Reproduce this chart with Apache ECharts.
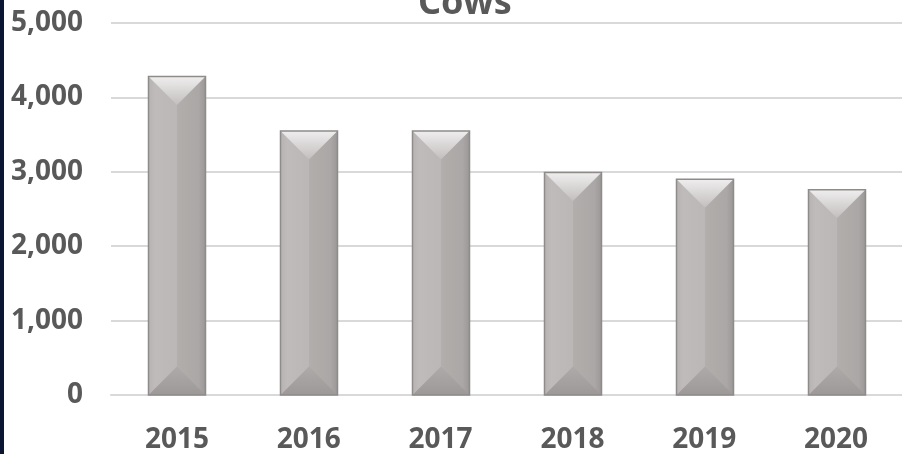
<!DOCTYPE html>
<html>
<head>
<meta charset="utf-8">
<script src="https://cdn.jsdelivr.net/npm/echarts@6/dist/echarts.min.js"></script>
<style>html,body{margin:0;padding:0;background:#fff;}#c{width:902px;height:454px;}</style>
</head>
<body>
<div id="c"></div>
<script>
const titleText = 'Cows';
const categories = ['2015', '2016', '2017', '2018', '2019', '2020'];
const cows = [4280, 3550, 3550, 2990, 2900, 2760];
const yTicks = [0, 1000, 2000, 3000, 4000, 5000];

const chart = echarts.init(document.getElementById('c'), null, {renderer: 'canvas'});
const font = '"Noto Sans", "Open Sans", sans-serif';
const textColor = '#595959';

function renderBar(params, api) {
  const cat = api.value(0);
  const val = api.value(1);
  const top = api.coord([cat, val]);
  const base = api.coord([cat, 0]);
  const bw = 57;
  const x0 = Math.round(top[0] - bw / 2) + 0.5;
  const x1 = x0 + bw;
  const cx = (x0 + x1) / 2;
  const y0 = top[1];
  const y1 = base[1];
  const b = Math.min(bw / 2, (y1 - y0) / 2);
  return {
    type: 'group',
    children: [
      {type: 'rect', shape: {x: x0, y: y0, width: bw, height: y1 - y0},
       style: {fill: new echarts.graphic.LinearGradient(0, 0, 1, 0, [
         {offset: 0, color: '#b7b3b2'}, {offset: 0.12, color: '#bfbbba'},
         {offset: 0.5, color: '#bbb7b6'}, {offset: 0.5, color: '#b1aeac'},
         {offset: 0.88, color: '#aaa7a6'}, {offset: 1, color: '#9a9796'}])}},
      {type: 'polygon', shape: {points: [[x0, y0], [x1, y0], [cx, y0 + b]]},
       style: {fill: new echarts.graphic.LinearGradient(0, 0, 0, 1, [
         {offset: 0, color: '#efeeee'}, {offset: 1, color: '#c2bebd'}])}},
      {type: 'polygon', shape: {points: [[x0, y1], [x1, y1], [cx, y1 - b]]},
       style: {fill: new echarts.graphic.LinearGradient(0, 0, 0, 1, [
         {offset: 0, color: '#aeaaa9'}, {offset: 1, color: '#9c9998'}])}},
      {type: 'rect', shape: {x: x0, y: y0, width: bw, height: y1 - y0},
       style: {fill: 'none', stroke: '#8e8b8a', lineWidth: 1.5}}
    ]
  };
}

chart.setOption({
  animation: false,
  backgroundColor: '#ffffff',
  title: {
    text: titleText, left: 413, top: -19,
    textStyle: {fontFamily: font, fontSize: 36, fontWeight: 'bold', color: textColor}
  },
  grid: {left: 111, right: -5, top: 23, bottom: 57, containLabel: false},
  xAxis: {
    type: 'category', data: categories,
    axisLine: {show: true, lineStyle: {color: '#d9d9d9', width: 2}},
    axisTick: {show: false},
    axisLabel: {fontFamily: font, fontSize: 28, fontWeight: 'bold', color: textColor, margin: 31}
  },
  yAxis: {
    type: 'value', min: yTicks[0], max: yTicks[yTicks.length - 1], interval: yTicks[1] - yTicks[0],
    axisLine: {show: false}, axisTick: {show: false},
    splitLine: {lineStyle: {color: '#d9d9d9', width: 2}},
    axisLabel: {fontFamily: font, fontSize: 28, fontWeight: 'bold', color: textColor, margin: 28,
      formatter: v => v.toLocaleString('en-US')}
  },
  graphic: [{type: 'rect', left: 0, top: 0, shape: {width: 4, height: 454}, style: {fill: '#0b1633'}, z: 100}],
  series: [{
    type: 'custom',
    renderItem: renderBar,
    encode: {x: 0, y: 1},
    data: cows.map((v, i) => [i, v])
  }]
});
</script>
</body>
</html>
